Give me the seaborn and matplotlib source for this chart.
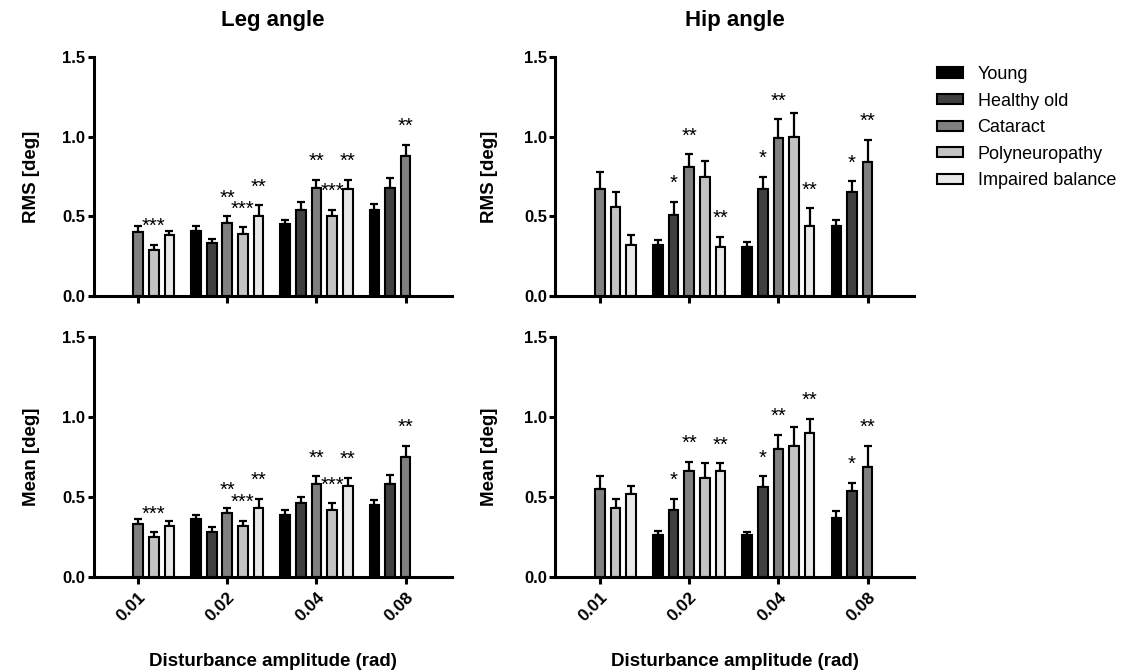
import numpy as np
import pandas as pd
import matplotlib
matplotlib.use("Agg")
import matplotlib.pyplot as plt
import matplotlib.colors as mcolors
from matplotlib.patches import Patch
import seaborn as sns

nan = np.nan

amplitudes = ["0.01", "0.02", "0.04", "0.08"]
groups = ["Young", "Healthy old", "Cataract", "Polyneuropathy", "Impaired balance"]
colors = ["#000000", "#404040", "#808080", "#c3c3c3", "#e8e8e8"]

# rows follow `groups`, columns follow `amplitudes`
leg_rms = [
    [nan, 0.41, 0.45, 0.54],
    [nan, 0.33, 0.54, 0.68],
    [0.40, 0.46, 0.68, 0.88],
    [0.29, 0.39, 0.50, nan],
    [0.38, 0.50, 0.67, nan],
]
leg_rms_err = [
    [nan, 0.03, 0.03, 0.04],
    [nan, 0.03, 0.05, 0.06],
    [0.04, 0.04, 0.05, 0.07],
    [0.03, 0.04, 0.04, nan],
    [0.03, 0.07, 0.06, nan],
]
leg_rms_sig = [
    ["", "", "", ""],
    ["", "", "", ""],
    ["", "**", "**", "**"],
    ["***", "***", "***", ""],
    ["", "**", "**", ""],
]

hip_rms = [
    [nan, 0.32, 0.31, 0.44],
    [nan, 0.51, 0.67, 0.65],
    [0.67, 0.81, 0.99, 0.84],
    [0.56, 0.75, 1.00, nan],
    [0.32, 0.31, 0.44, nan],
]
hip_rms_err = [
    [nan, 0.03, 0.03, 0.04],
    [nan, 0.08, 0.08, 0.07],
    [0.11, 0.08, 0.12, 0.14],
    [0.09, 0.10, 0.15, nan],
    [0.06, 0.06, 0.11, nan],
]
hip_rms_sig = [
    ["", "", "", ""],
    ["", "*", "*", "*"],
    ["", "**", "**", "**"],
    ["", "", "", ""],
    ["", "**", "**", ""],
]

leg_mean = [
    [nan, 0.36, 0.39, 0.45],
    [nan, 0.28, 0.46, 0.58],
    [0.33, 0.40, 0.58, 0.75],
    [0.25, 0.32, 0.42, nan],
    [0.32, 0.43, 0.57, nan],
]
leg_mean_err = [
    [nan, 0.03, 0.03, 0.03],
    [nan, 0.03, 0.04, 0.06],
    [0.03, 0.03, 0.05, 0.07],
    [0.03, 0.03, 0.04, nan],
    [0.03, 0.06, 0.05, nan],
]
leg_mean_sig = [
    ["", "", "", ""],
    ["", "", "", ""],
    ["", "**", "**", "**"],
    ["***", "***", "***", ""],
    ["", "**", "**", ""],
]

hip_mean = [
    [nan, 0.26, 0.26, 0.37],
    [nan, 0.42, 0.56, 0.54],
    [0.55, 0.66, 0.80, 0.69],
    [0.43, 0.62, 0.82, nan],
    [0.52, 0.66, 0.90, nan],
]
hip_mean_err = [
    [nan, 0.03, 0.02, 0.04],
    [nan, 0.07, 0.07, 0.05],
    [0.08, 0.06, 0.09, 0.13],
    [0.06, 0.09, 0.12, nan],
    [0.05, 0.05, 0.09, nan],
]
hip_mean_sig = [
    ["", "", "", ""],
    ["", "*", "*", "*"],
    ["", "**", "**", "**"],
    ["", "", "", ""],
    ["", "**", "**", ""],
]

titles = ["Leg angle", "Hip angle"]
ylabels = ["RMS [deg]", "Mean [deg]"]
xlabel = "Disturbance amplitude (rad)"

sns.set_style("ticks")
plt.rcParams["font.family"] = ["Liberation Sans", "DejaVu Sans"]
plt.rcParams["text.color"] = "black"
plt.rcParams["axes.labelcolor"] = "black"
plt.rcParams["xtick.color"] = "black"
plt.rcParams["ytick.color"] = "black"

fig = plt.figure(figsize=(11.32, 6.72), dpi=100)
W, H = 1132.0, 672.0


def rect(x0, x1, ytop, ybot):
    return [x0 / W, 1 - ybot / H, (x1 - x0) / W, (ybot - ytop) / H]


axes = {
    (0, 0): fig.add_axes(rect(93.6, 452, 57, 296)),
    (0, 1): fig.add_axes(rect(555.4, 914, 57, 296)),
    (1, 0): fig.add_axes(rect(93.6, 452, 337, 577)),
    (1, 1): fig.add_axes(rect(555.4, 914, 337, 577)),
}

panels = {
    (0, 0): (leg_rms, leg_rms_err, leg_rms_sig),
    (0, 1): (hip_rms, hip_rms_err, hip_rms_sig),
    (1, 0): (leg_mean, leg_mean_err, leg_mean_sig),
    (1, 1): (hip_mean, hip_mean_err, hip_mean_sig),
}

rgba_list = [mcolors.to_rgba(c) for c in colors]


def draw(ax, vals, errs, sigs):
    rows = []
    for gi, g in enumerate(groups):
        for ai, a in enumerate(amplitudes):
            v = vals[gi][ai]
            if not np.isnan(v):
                rows.append({"amp": a, "value": v, "group": g})
    df = pd.DataFrame(rows)
    sns.barplot(data=df, x="amp", y="value", hue="group", order=amplitudes,
                hue_order=groups, palette=dict(zip(groups, colors)),
                saturation=1, width=0.875, gap=0.38, edgecolor="black",
                linewidth=1.5, errorbar=None, legend=False, ax=ax, zorder=2)
    for patch in ax.patches:
        fc = patch.get_facecolor()
        gi = int(np.argmin([sum((np.array(fc[:3]) - np.array(c[:3])) ** 2) for c in rgba_list]))
        xc = patch.get_x() + patch.get_width() / 2
        ai = int(round(xc))
        h = patch.get_height()
        e = errs[gi][ai]
        ax.errorbar(xc, h, yerr=[[0], [e]], fmt="none", ecolor="black",
                    elinewidth=1.6, capsize=2.6, capthick=1.6, zorder=1.5)
        s = sigs[gi][ai]
        if s:
            ax.annotate(s, xy=(xc, h + e), xytext=(0, 9.2), textcoords="offset points",
                        ha="center", va="baseline", fontsize=14.5, color="black", zorder=4)


for (r, c), ax in axes.items():
    vals, errs, sigs = panels[(r, c)]
    draw(ax, vals, errs, sigs)
    ax.set_ylim(0, 1.5)
    ax.set_xlim(-0.5, 3.52)
    ax.set_yticks([0, 0.5, 1.0, 1.5])
    ax.set_yticklabels(["0.0", "0.5", "1.0", "1.5"], fontweight="bold", fontsize=12)
    ax.set_xticks(range(len(amplitudes)))
    ax.set_xticklabels(amplitudes, fontweight="bold", fontsize=12.5, rotation=45,
                       ha="right", rotation_mode="anchor")
    for side in ["top", "right"]:
        ax.spines[side].set_visible(False)
    for side in ["left", "bottom"]:
        ax.spines[side].set_linewidth(2.2)
        ax.spines[side].set_color("black")
    ax.tick_params(axis="both", direction="out", width=2.2, color="black",
                   labelcolor="black")
    ax.tick_params(axis="y", length=4.5, pad=1.5)
    ax.tick_params(axis="x", length=5, pad=4)
    ax.set_ylabel(ylabels[r], fontweight="bold", fontsize=13.5, color="black")
    ax.yaxis.set_label_coords(-0.15 if c == 0 else -0.16, 0.5)
    if r == 1:
        ax.set_xlabel(xlabel, fontweight="bold", fontsize=13.5, color="black")
        ax.xaxis.set_label_coords(0.5, -0.315)
    else:
        ax.set_xlabel("")
        ax.tick_params(axis="x", labelbottom=False)
    if r == 0:
        ax.set_title(titles[c], fontweight="bold", fontsize=16, pad=22, color="black")
    ax.set_facecolor("white")

handles = [Patch(facecolor=col, edgecolor="black", linewidth=1.5, label=g)
           for g, col in zip(groups, colors)]
fig.legend(handles=handles, loc="upper left", bbox_to_anchor=(937 / W, 1 - 66 / H),
           frameon=False, borderpad=0, borderaxespad=0, handlelength=1.45,
           handleheight=0.5, handletextpad=0.8, labelspacing=0.53, fontsize=13,
           labelcolor="black")

fig.savefig("out.png", dpi=100, facecolor="white")
